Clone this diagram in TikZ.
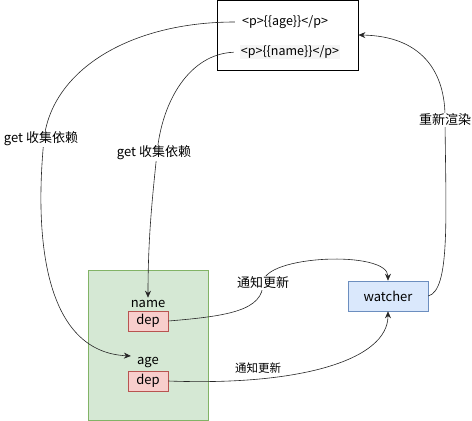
\documentclass[tikz,border=0pt]{standalone}
\usepackage{fontspec}
\setmainfont{Noto Sans CJK SC}
\usetikzlibrary{arrows.meta, positioning}
\definecolor{depfill}{HTML}{F8CECC}
\definecolor{depline}{HTML}{B85450}
\definecolor{datafill}{HTML}{D5E8D4}
\definecolor{dataline}{HTML}{82B366}
\definecolor{watchfill}{HTML}{DAE8FC}
\definecolor{watchline}{HTML}{6C8EBF}
\tikzset{
  vue/.style={
    x=1pt, y=-1pt,
    font=\fontsize{13}{15}\selectfont,
    >={Stealth[length=7pt, width=6pt]},
    line width=0.6pt,
    node distance=1pt,
  },
  tplbox/.style={draw=black, line width=0.8pt, minimum width=141pt, minimum height=70pt},
  tplline/.style={font=\fontsize{12.5}{14}\selectfont, inner sep=1pt},
  datastore/.style={draw=dataline, fill=datafill, minimum width=120pt, minimum height=150pt},
  depbox/.style={draw=depline, fill=depfill, minimum width=40pt, minimum height=20pt, inner sep=0pt},
  watchbox/.style={draw=watchline, fill=watchfill, minimum width=80pt, minimum height=30pt},
  keylbl/.style={inner sep=2pt},
  flow/.style={->, draw=black!85},
  edgelbl/.style={fill=white, inner sep=1pt},
}

\begin{document}
\begin{tikzpicture}[vue]
  \useasboundingbox (0,0) rectangle (472,421);

  \node[tplbox] (tpl) at (287.5,35) {};
  \node[tplline] (tplage) at (285,22) {<p>\{\{age\}\}</p>};
  \node[tplline, fill=black!4, minimum width=97pt] (tplname) at (290,52) {<p>\{\{name\}\}</p>};

  \node[datastore] (data) at (148,345.5) {};
  \node[depbox] (namedep) at (148,321) {dep};
  \node[keylbl, above=of namedep] (namelbl) {name};
  \node[depbox] (agedep) at (148,381) {dep};
  \node[keylbl, above=of agedep] (agelbl) {age};

  \node[watchbox] (watcher) at (388,296) {watcher};

  \draw[flow, shorten <=6pt, shorten >=4pt] (tplage.west) .. controls (130,22) and (52,70) .. (44,139)
    node[edgelbl, xshift=-3pt] {get 收集依赖}
    .. controls (34,240) and (45,352) .. ([yshift=6pt]agelbl.west);
  \draw[flow, shorten <=6pt] (tplname.west) .. controls (190,54) and (162,100) .. (157,153)
    node[edgelbl, xshift=-3pt] {get 收集依赖}
    .. controls (152,200) and (148,240) .. (namelbl.north);
  \draw[flow] (namedep.east) .. controls (230,316) and (263,310) .. (263,283)
    node[edgelbl] {通知更新}
    .. controls (263,255) and (388,250) .. (watcher.north);
  \draw[flow] (agedep.east) .. controls (300,386) and (388,360) .. (watcher.south);
  \node[font=\fontsize{11.5}{13}\selectfont] (notify) at (258,368) {通知更新};
  \draw[flow] (watcher.east) .. controls (450,290) and (446,220) .. (445,120)
    node[edgelbl] {重新渲染}
    .. controls (446,70) and (420,36) .. (tpl.east);
\end{tikzpicture}
\end{document}
